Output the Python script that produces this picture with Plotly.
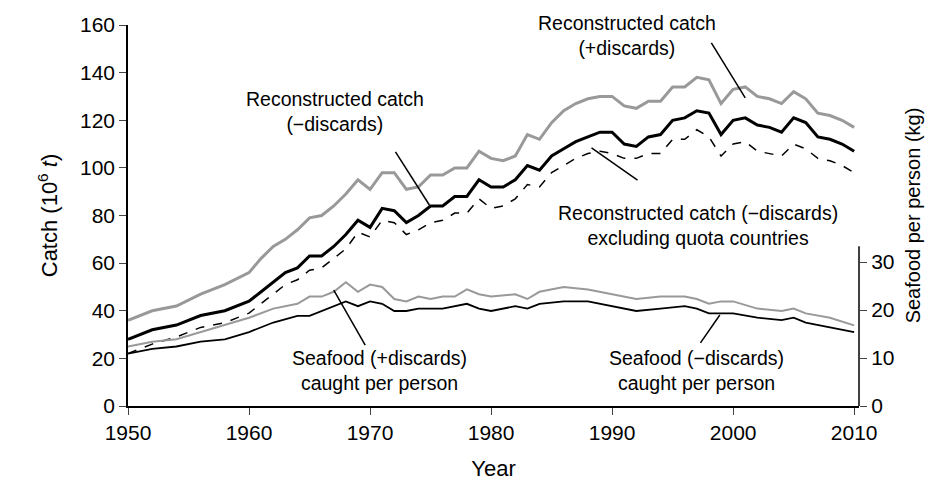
import plotly.graph_objects as go

years = [1950, 1952, 1954, 1956, 1958, 1960, 1961, 1962, 1963, 1964, 1965, 1966, 1967, 1968, 1969,
         1970, 1971, 1972, 1973, 1974, 1975, 1976, 1977, 1978, 1979, 1980, 1981, 1982, 1983, 1984,
         1985, 1986, 1987, 1988, 1989, 1990, 1991, 1992, 1993, 1994, 1995, 1996, 1997, 1998, 1999,
         2000, 2001, 2002, 2003, 2004, 2005, 2006, 2007, 2008, 2009, 2010]
catch_plus = [36, 40, 42, 47, 51, 56, 62, 67, 70, 74, 79, 80, 84, 89, 95, 91, 98, 98, 91, 92, 97, 97,
              100, 100, 107, 104, 103, 105, 114, 112, 119, 124, 127, 129, 130, 130, 126, 125, 128, 128,
              134, 134, 138, 137, 127, 133, 134, 130, 129, 127, 132, 129, 123, 122, 120, 117]
catch_minus = [28, 32, 34, 38, 40, 44, 48, 52, 56, 58, 63, 63, 67, 72, 78, 75, 83, 82, 77, 80, 84, 84,
               88, 88, 95, 92, 92, 95, 101, 99, 105, 108, 111, 113, 115, 115, 110, 109, 113, 114, 120,
               121, 124, 123, 114, 120, 121, 118, 117, 115, 121, 119, 113, 112, 110, 107]
catch_excl_quota = [22, 26, 29, 33, 35, 39, 43, 47, 51, 53, 57, 58, 62, 66, 73, 71, 78, 77, 72, 74, 77,
                    78, 81, 81, 87, 83, 84, 87, 93, 92, 98, 101, 104, 106, 107, 106, 104, 104, 106, 106,
                    112, 112, 116, 113, 105, 110, 111, 107, 106, 105, 110, 108, 104, 103, 101, 98]

pp_years_plus = [1950, 1952, 1954, 1956, 1958, 1960, 1962, 1964, 1965, 1966, 1967, 1968, 1969, 1970,
                 1971, 1972, 1973, 1974, 1975, 1976, 1977, 1978, 1979, 1980, 1982, 1983, 1984, 1986,
                 1988, 1990, 1992, 1994, 1996, 1997, 1998, 1999, 2000, 2002, 2004, 2005, 2006, 2008, 2010]
pp_plus = [12.4, 13.4, 13.9, 15.4, 16.9, 18.4, 20.3, 21.3, 22.8, 22.8, 23.8, 25.8, 23.8, 25.3, 24.8,
           22.3, 21.8, 22.8, 22.3, 22.8, 22.8, 24.3, 23.3, 22.8, 23.3, 22.3, 23.8, 24.8, 24.3, 23.3,
           22.3, 22.8, 22.8, 22.3, 21.3, 21.8, 21.8, 20.3, 19.8, 20.3, 19.3, 18.4, 16.8]
pp_years_minus = [1950, 1952, 1954, 1956, 1958, 1960, 1962, 1964, 1965, 1966, 1967, 1968, 1969, 1970,
                  1971, 1972, 1973, 1974, 1976, 1978, 1979, 1980, 1982, 1983, 1984, 1986, 1988, 1990,
                  1992, 1994, 1996, 1997, 1998, 1999, 2000, 2002, 2004, 2005, 2006, 2008, 2010]
pp_minus = [10.9, 11.9, 12.4, 13.4, 13.9, 15.4, 17.4, 18.8, 18.8, 19.8, 20.8, 21.8, 20.8, 21.8, 21.3,
            19.8, 19.8, 20.3, 20.3, 21.3, 20.3, 19.8, 20.8, 20.3, 21.3, 21.8, 21.8, 20.8, 19.8, 20.3,
            20.8, 20.3, 19.3, 19.3, 19.3, 18.4, 17.9, 18.4, 17.4, 16.4, 15.4]

font = "Liberation Sans, Arial, sans-serif"
grey = "#999999"

fig = go.Figure()
fig.add_trace(go.Scatter(x=years, y=catch_plus, mode="lines", line=dict(color=grey, width=3)))
fig.add_trace(go.Scatter(x=years, y=catch_minus, mode="lines", line=dict(color="black", width=3)))
fig.add_trace(go.Scatter(x=years, y=catch_excl_quota, mode="lines",
                         line=dict(color="black", width=1.5, dash="dash")))
fig.add_trace(go.Scatter(x=pp_years_plus, y=pp_plus, mode="lines", yaxis="y2",
                         line=dict(color=grey, width=2)))
fig.add_trace(go.Scatter(x=pp_years_minus, y=pp_minus, mode="lines", yaxis="y2",
                         line=dict(color="black", width=1.8)))

ann_font = dict(family=font, size=19.5, color="black")
labels = [
    (1991.2, 155.6, "Reconstructed catch<br>(+discards)"),
    (1967.1, 123.5, "Reconstructed catch<br>(−discards)"),
    (1997.1, 75.6, "Reconstructed catch (−discards)<br>excluding quota countries"),
    (1970.8, 15, "Seafood (+discards)<br>caught per person"),
    (1997.0, 15, "Seafood (−discards)<br>caught per person"),
]
for x, y, t in labels:
    fig.add_annotation(x=x, y=y, text=t, showarrow=False, font=ann_font, yanchor="middle")

pointers = [(1998.2, 152.5, 2001.0, 129.4), (1972.1, 106.7, 1974.9, 84.4),
            (1988.3, 108.4, 1992.1, 94.9), (1967.0, 48.7, 1969.6, 25.6), (1997.3, 26.5, 1998.9, 38.2)]
for x0, y0, x1, y1 in pointers:
    fig.add_shape(type="line", x0=x0, y0=y0, x1=x1, y1=y1, line=dict(color="black", width=1.5))

# partial right axis line
fig.add_shape(type="line", xref="paper", yref="y2", x0=1, x1=1, y0=0, y1=33.3,
              line=dict(color="black", width=1.5))

fig.update_layout(
    width=946, height=493, showlegend=False,
    plot_bgcolor="white", paper_bgcolor="white",
    margin=dict(l=120, r=95, t=17, b=95),
    font=dict(family=font, size=21, color="black"),
    xaxis=dict(range=[1950, 2010.4], tickvals=[1950, 1960, 1970, 1980, 1990, 2000, 2010],
               showgrid=False, zeroline=False, showline=True, linecolor="black", linewidth=1.5,
               ticks="outside", ticklen=7, title=dict(text="Year", font=dict(size=22), standoff=18)),
    yaxis=dict(range=[0, 160], tickvals=list(range(0, 161, 20)), showgrid=False, zeroline=False,
               showline=True, linecolor="black", linewidth=1.5, ticks="outside", ticklen=7,
               title=dict(text="Catch (10<sup>6</sup> <i>t</i>)", font=dict(size=22), standoff=16)),
    yaxis2=dict(range=[0, 79.4], overlaying="y", side="right", tickvals=[0, 10, 20, 30],
                showgrid=False, zeroline=False, showline=False, ticks="outside", ticklen=7,
                title=dict(text="Seafood per person (kg)", font=dict(size=20), standoff=12)),
)
fig.update_yaxes(automargin=False)
fig.update_xaxes(automargin=False)

fig.write_html("out.html")
